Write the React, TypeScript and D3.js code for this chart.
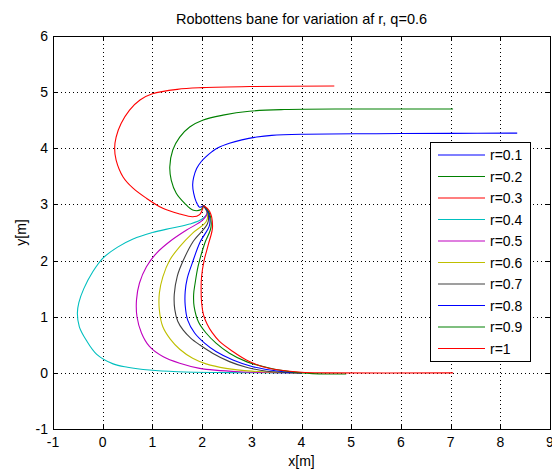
import React from "react";
import * as d3 from "d3";

const WIDTH = 552;
const HEIGHT = 473;

const titleText = "Robottens bane for variation af r, q=0.6";
const xLabelText = "x[m]";
const yLabelText = "y[m]";

const xTicks = [-1, 0, 1, 2, 3, 4, 5, 6, 7, 8, 9];
const yTicks = [-1, 0, 1, 2, 3, 4, 5, 6];

const seriesLabels = ["r=0.1", "r=0.2", "r=0.3", "r=0.4", "r=0.5", "r=0.6", "r=0.7", "r=0.8", "r=0.9", "r=1"];
const seriesColors = ["#0000ff", "#008000", "#ff0000", "#00bfbf", "#bf00bf", "#bfbf00", "#404040", "#0000ff", "#008000", "#ff0000"];

type Pt = [number, number];

const pathR01: Pt[] = [
  [2.03, 2.98], [1.95, 2.95], [1.88, 3.05], [1.83, 3.2], [1.81, 3.35], [1.83, 3.48], [1.89, 3.64],
  [1.98, 3.76], [2.08, 3.85], [2.2, 3.94], [2.32, 4.01], [2.55, 4.09], [2.8, 4.15], [3.1, 4.2],
  [3.4, 4.23], [4.0, 4.25], [5.5, 4.26], [7.0, 4.265], [8.34, 4.27],
];
const pathR02: Pt[] = [
  [2.03, 2.98], [1.98, 2.91], [1.81, 2.9], [1.65, 3.02], [1.48, 3.2], [1.38, 3.43], [1.35, 3.67],
  [1.41, 3.97], [1.55, 4.2], [1.75, 4.38], [2.01, 4.5], [2.42, 4.59], [2.95, 4.66], [3.65, 4.69],
  [5.0, 4.7], [7.05, 4.7],
];
const pathR03: Pt[] = [
  [2.03, 2.98], [1.95, 2.82], [1.81, 2.78], [1.55, 2.83], [1.21, 2.93], [0.88, 3.11], [0.61, 3.29],
  [0.41, 3.49], [0.27, 3.79], [0.24, 4.0], [0.27, 4.2], [0.37, 4.44], [0.54, 4.68], [0.75, 4.86],
  [1.0, 4.97], [1.5, 5.05], [2.01, 5.08], [3.0, 5.1], [4.66, 5.11],
];
const pathR04: Pt[] = [
  [2.03, 2.98], [2.1, 2.85], [2.0, 2.74], [1.75, 2.65], [1.4, 2.58], [1.0, 2.5], [0.6, 2.38],
  [0.3, 2.24], [0.0, 2.04], [-0.2, 1.8], [-0.38, 1.5], [-0.48, 1.25], [-0.51, 1.06], [-0.47, 0.82],
  [-0.33, 0.58], [-0.12, 0.33], [0.21, 0.16], [0.5, 0.1], [0.94, 0.05], [1.5, 0.02], [2.5, 0.005], [4.0, 0],
];
const pathR05: Pt[] = [
  [2.03, 2.98], [2.1, 2.84], [2.01, 2.72], [1.68, 2.54], [1.35, 2.34], [1.08, 2.13], [0.88, 1.89],
  [0.74, 1.6], [0.68, 1.3], [0.69, 1.0], [0.78, 0.71], [0.94, 0.47], [1.21, 0.29], [1.55, 0.17],
  [1.95, 0.08], [2.75, 0.02], [3.5, 0.005], [4.0, 0],
];
const pathR06: Pt[] = [
  [2.03, 2.98], [2.11, 2.84], [2.08, 2.69], [1.81, 2.49], [1.55, 2.25], [1.35, 2.01], [1.21, 1.71],
  [1.14, 1.42], [1.14, 1.12], [1.21, 0.82], [1.36, 0.6], [1.55, 0.42], [1.81, 0.26], [2.08, 0.16],
  [2.48, 0.08], [3.0, 0.03], [4.0, 0],
];
const pathR07: Pt[] = [
  [2.03, 2.98], [2.12, 2.84], [2.11, 2.66], [1.82, 2.34], [1.62, 2.0], [1.5, 1.72], [1.44, 1.4],
  [1.45, 1.13], [1.51, 0.92], [1.62, 0.76], [1.77, 0.62], [1.95, 0.5], [2.21, 0.35], [2.55, 0.2],
  [2.89, 0.1], [3.3, 0.03], [4.0, 0],
];
const pathR08: Pt[] = [
  [2.03, 2.98], [2.13, 2.85], [2.15, 2.63], [1.96, 2.33], [1.8, 1.95], [1.7, 1.68], [1.66, 1.45],
  [1.66, 1.2], [1.71, 0.94], [1.85, 0.71], [2.05, 0.53], [2.28, 0.38], [2.62, 0.23], [3.02, 0.11],
  [3.55, 0.03], [4.0, 0],
];
const pathR09: Pt[] = [
  [2.03, 2.98], [2.14, 2.86], [2.18, 2.6], [2.05, 2.3], [1.92, 1.9], [1.86, 1.6], [1.83, 1.4],
  [1.84, 1.18], [1.93, 0.9], [2.08, 0.71], [2.28, 0.53], [2.55, 0.35], [2.89, 0.2], [3.29, 0.1],
  [3.62, 0.04], [4.0, 0.0], [4.5, -0.02], [4.9, -0.02],
];
const pathR10: Pt[] = [
  [2.03, 2.98], [2.15, 2.88], [2.21, 2.6], [2.13, 2.3], [2.04, 2.0], [1.99, 1.72], [1.98, 1.5],
  [1.99, 1.25], [2.03, 1.03], [2.1, 0.87], [2.2, 0.72], [2.35, 0.56], [2.62, 0.38], [2.89, 0.23],
  [3.22, 0.11], [3.55, 0.05], [4.0, 0.01], [4.5, 0.0], [7.05, 0.0],
];

const allPaths = [pathR01, pathR02, pathR03, pathR04, pathR05, pathR06, pathR07, pathR08, pathR09, pathR10];

const FONT = "'Liberation Sans', Arial, Helvetica, sans-serif";

export default function App() {
  const left = 53, right = 550, top = 36, bottom = 429;
  const x = d3.scaleLinear().domain([-1, 9]).range([left, right]);
  const y = d3.scaleLinear().domain([-1, 6]).range([bottom, top]);
  const line = d3
    .line<Pt>()
    .x((d) => x(d[0]))
    .y((d) => y(d[1]))
    .curve(d3.curveCatmullRom.alpha(0.5));

  const tickLen = 5;
  const legend = { x0: 430, x1: 530, y0: 142, y1: 361, firstY: 155, step: 21.5 };

  return (
    <div style={{ position: "absolute", left: 0, top: 0 }}>
      <svg width={WIDTH} height={HEIGHT} style={{ display: "block", background: "#fff" }}>
        {/* grid */}
        <g stroke="#000" strokeWidth={1} strokeDasharray="1,3" shapeRendering="crispEdges">
          {xTicks.slice(1, -1).map((t) => (
            <line key={"gx" + t} x1={Math.round(x(t)) + 0.5} x2={Math.round(x(t)) + 0.5} y1={top} y2={bottom} />
          ))}
          {yTicks.slice(1, -1).map((t) => (
            <line key={"gy" + t} x1={left} x2={right} y1={Math.round(y(t)) + 0.5} y2={Math.round(y(t)) + 0.5} />
          ))}
        </g>
        {/* curves */}
        <g fill="none" strokeWidth={1.1}>
          {allPaths.map((p, i) => (
            <path key={"c" + i} d={line(p) || ""} stroke={seriesColors[i]} />
          ))}
        </g>
        {/* axes box and ticks */}
        <g stroke="#000" strokeWidth={1} shapeRendering="crispEdges">
          <rect x={left + 0.5} y={top + 0.5} width={right - left} height={bottom - top} fill="none" />
          {xTicks.map((t) => (
            <g key={"tx" + t}>
              <line x1={Math.round(x(t)) + 0.5} x2={Math.round(x(t)) + 0.5} y1={bottom} y2={bottom - tickLen} />
              <line x1={Math.round(x(t)) + 0.5} x2={Math.round(x(t)) + 0.5} y1={top} y2={top + tickLen} />
            </g>
          ))}
          {yTicks.map((t) => (
            <g key={"ty" + t}>
              <line x1={left} x2={left + tickLen} y1={Math.round(y(t)) + 0.5} y2={Math.round(y(t)) + 0.5} />
              <line x1={right} x2={right - tickLen} y1={Math.round(y(t)) + 0.5} y2={Math.round(y(t)) + 0.5} />
            </g>
          ))}
        </g>
        {/* tick labels */}
        <g fontFamily={FONT} fontSize={14} fill="#000">
          {xTicks.map((t) => (
            <text key={"lx" + t} x={x(t)} y={bottom + 18} textAnchor="middle">
              {String(t)}
            </text>
          ))}
          {yTicks.map((t) => (
            <text key={"ly" + t} x={left - 5} y={y(t) + 5} textAnchor="end">
              {String(t)}
            </text>
          ))}
        </g>
        {/* titles */}
        <text x={(left + right) / 2} y={24} textAnchor="middle" fontFamily={FONT} fontSize={14.5}>
          {titleText}
        </text>
        <text x={(left + right) / 2} y={466} textAnchor="middle" fontFamily={FONT} fontSize={14}>
          {xLabelText}
        </text>
        <text
          transform={`translate(26, ${(top + bottom) / 2}) rotate(-90)`}
          textAnchor="middle"
          fontFamily={FONT}
          fontSize={14}
        >
          {yLabelText}
        </text>
        {/* legend */}
        <g>
          <rect
            x={legend.x0 + 0.5}
            y={legend.y0 + 0.5}
            width={legend.x1 - legend.x0}
            height={legend.y1 - legend.y0}
            fill="#fff"
            stroke="#000"
            strokeWidth={1}
            shapeRendering="crispEdges"
          />
          {seriesLabels.map((lab, i) => {
            const yy = legend.firstY + i * legend.step;
            return (
              <g key={"lg" + i}>
                <line x1={438} x2={485} y1={yy} y2={yy} stroke={seriesColors[i]} strokeWidth={1.1} />
                <text x={490} y={yy + 5} fontFamily={FONT} fontSize={14}>
                  {lab}
                </text>
              </g>
            );
          })}
        </g>
      </svg>
    </div>
  );
}
